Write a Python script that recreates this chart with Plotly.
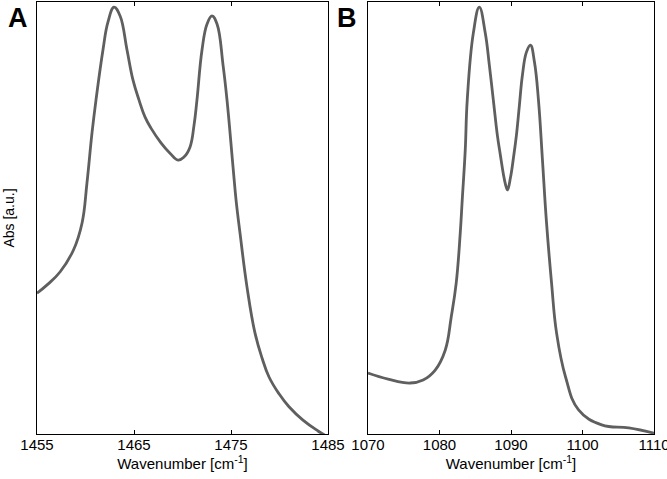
import plotly.graph_objects as go

# Panel A: wavenumber (cm^-1) and absorbance (a.u.)
wn_a = [1455.00, 1456.13, 1457.37, 1458.76, 1459.64, 1460.15, 1460.67, 1461.08,
        1461.80, 1462.32, 1462.94, 1463.56, 1464.28, 1464.90, 1465.52, 1466.13,
        1466.75, 1467.78, 1468.71, 1469.54, 1470.15, 1470.77, 1471.19, 1471.49,
        1472.01, 1472.53, 1473.04, 1473.56, 1474.18, 1474.59, 1475.21, 1475.52,
        1475.93, 1476.65, 1477.47, 1478.20, 1478.92, 1479.95, 1480.98, 1482.42,
        1483.97, 1485.00]
abs_a = [0.326, 0.347, 0.375, 0.426, 0.488, 0.581, 0.697, 0.773,
         0.889, 0.954, 0.988, 0.968, 0.889, 0.819, 0.773, 0.734,
         0.708, 0.674, 0.650, 0.634, 0.641, 0.664, 0.715, 0.773,
         0.889, 0.949, 0.968, 0.949, 0.854, 0.773, 0.618, 0.542,
         0.465, 0.340, 0.234, 0.176, 0.132, 0.093, 0.063, 0.032,
         0.007, -0.007]

# Panel B
wn_b = [1070.00, 1072.81, 1075.89, 1077.71, 1079.40, 1080.80, 1081.64, 1082.34,
        1082.90, 1083.18, 1083.60, 1083.88, 1084.73, 1085.57, 1086.40, 1086.97,
        1087.53, 1088.09, 1088.51, 1088.93, 1089.21, 1089.50, 1089.92, 1090.34,
        1090.76, 1091.18, 1091.60, 1092.16, 1092.72, 1093.28, 1093.84, 1094.40,
        1094.96, 1095.67, 1096.37, 1097.63, 1099.45, 1102.68, 1106.47, 1110.00]
abs_b = [0.141, 0.127, 0.118, 0.125, 0.148, 0.194, 0.271, 0.350,
         0.465, 0.542, 0.657, 0.773, 0.928, 0.988, 0.928, 0.854,
         0.773, 0.692, 0.646, 0.602, 0.579, 0.565, 0.593, 0.639,
         0.692, 0.762, 0.831, 0.884, 0.900, 0.861, 0.773, 0.634,
         0.491, 0.350, 0.234, 0.132, 0.056, 0.021, 0.014, 0.002]

ticks_a = [1455, 1465, 1475, 1485]
ticks_b = [1070, 1080, 1090, 1100, 1110]

line_color = "#5f5f5f"
font_family = "Liberation Sans, Arial, sans-serif"

fig = go.Figure()
fig.add_trace(go.Scatter(x=wn_a, y=abs_a, mode="lines", xaxis="x", yaxis="y",
                         line=dict(color=line_color, width=2.8, shape="spline", smoothing=1.2),
                         showlegend=False))
fig.add_trace(go.Scatter(x=wn_b, y=abs_b, mode="lines", xaxis="x2", yaxis="y2",
                         line=dict(color=line_color, width=2.8, shape="spline", smoothing=1.2),
                         showlegend=False))

W, H = 667, 479
ydom = [1 - 434 / H, 1 - 2 / H]

common_x = dict(showline=True, linecolor="black", linewidth=1.2, mirror="allticks",
                ticks="inside", ticklen=4, tickcolor="black", showgrid=False,
                zeroline=False, tickfont=dict(size=15, color="black", family=font_family),
                ticklabeloverflow="allow", ticklabelstandoff=-3,
                title_font=dict(size=15, color="black", family=font_family),
                title_standoff=4, automargin=False)
common_y = dict(showline=True, linecolor="black", linewidth=1.2, mirror=True,
                ticks="", showticklabels=False, showgrid=False, zeroline=False,
                range=[0, 1.0], automargin=False)

fig.update_layout(
    width=W, height=H,
    margin=dict(l=0, r=0, t=0, b=0),
    paper_bgcolor="white", plot_bgcolor="white",
    font=dict(family=font_family, color="black"),
    xaxis=dict(domain=[37 / W, 328 / W], range=[1455, 1485], tickvals=ticks_a,
               title_text="Wavenumber [cm<sup>-1</sup>]", anchor="y", **common_x),
    yaxis=dict(domain=ydom, anchor="x",
               title=dict(text="Abs [a.u.]", font=dict(size=14, color="black", family=font_family),
                          standoff=18),
               **common_y),
    xaxis2=dict(domain=[368 / W, 654 / W], range=[1070, 1110], tickvals=ticks_b,
                title_text="Wavenumber [cm<sup>-1</sup>]", anchor="y2", **common_x),
    yaxis2=dict(domain=ydom, anchor="x2", **common_y),
    annotations=[
        dict(text="<b>A</b>", x=18 / W, y=1 - 18 / H, xref="paper", yref="paper",
             showarrow=False, font=dict(size=27, color="black", family=font_family),
             xanchor="center", yanchor="middle"),
        dict(text="<b>B</b>", x=347 / W, y=1 - 18 / H, xref="paper", yref="paper",
             showarrow=False, font=dict(size=27, color="black", family=font_family),
             xanchor="center", yanchor="middle"),
    ],
)

fig.write_html("out.html", config={"displayModeBar": False},
               post_script="document.body.style.margin='0';document.body.style.overflow='hidden';")
